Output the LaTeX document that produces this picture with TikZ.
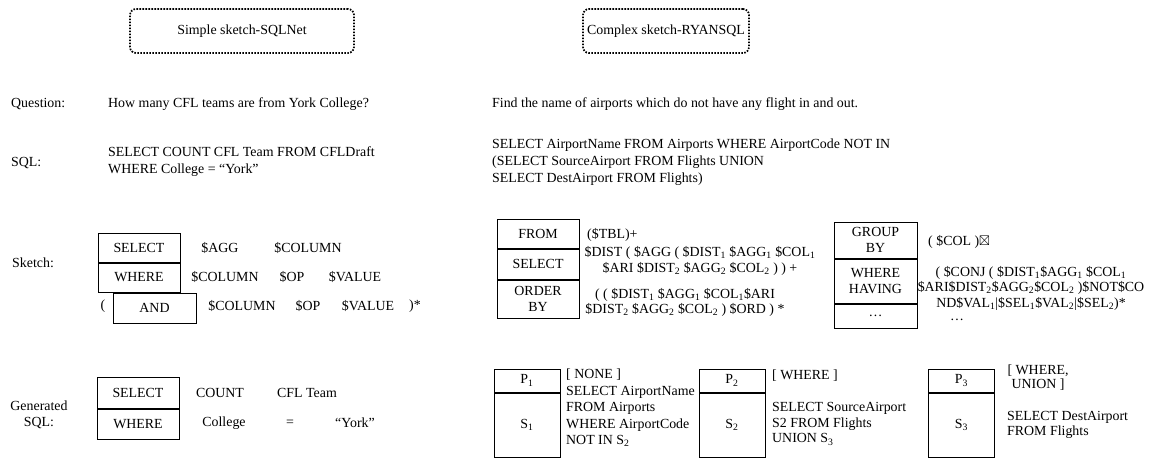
\documentclass[tikz,border=0pt]{standalone}
\usepackage{fontspec}
\setmainfont{Liberation Serif}
\usepackage{amssymb}
\usetikzlibrary{positioning}
\newcommand{\fsz}{\fontsize{13.9}{16.5}\selectfont}
\newcommand{\lo}[1]{\textsubscript{#1}}

\begin{document}
\begin{tikzpicture}[x=1pt, y=-1pt,
  every node/.style={font=\fsz},
  titlebox/.style={draw,line width=1.7,dash pattern=on 1.6pt off 1.4pt,rounded corners=6,minimum height=44,inner sep=0},
  kw/.style={draw,line width=1,align=center,inner sep=0,minimum width=82},
  pbox/.style={draw,line width=1,inner sep=0,minimum width=66},
  lbl/.style={anchor=west,inner sep=0,align=left},
  tok/.style={inner sep=0,align=center}]
\useasboundingbox (0,0) rectangle (1152,459);
% headers
\node[titlebox,minimum width=224] (simple) at (242,31) {Simple sketch-SQLNet};
\node[titlebox,minimum width=166] (complex) at (666,31) {Complex sketch-RYANSQL};
% row captions
\node[lbl] (qcap) at (11,104) {Question:};
\node[lbl] (scap) at (11,163) {SQL:};
\node[lbl] (kcap) at (12,263) {Sketch:};
\node[tok] (gcap) at (39,415) {Generated\\SQL:};
% question and sql
\node[lbl] (q1) at (108,104) {How many CFL teams are from York College?};
\node[lbl] (q2) at (492,104) {Find the name of airports which do not have any flight in and out.};
\node[lbl,font=\fontsize{13.9}{17}\selectfont] (sql1) at (108,162) {SELECT COUNT CFL Team FROM CFLDraft\\WHERE College = “York”};
\node[lbl,font=\fontsize{13.9}{17}\selectfont] (sql2) at (492,162) {SELECT AirportName FROM Airports WHERE AirportCode NOT IN\\(SELECT SourceAirport FROM Flights UNION\\SELECT DestAirport FROM Flights)};
% simple sketch
\node[kw,minimum height=29] (sel) at (139,247.5) {SELECT};
\node[kw,minimum height=29,below=0pt of sel] (whr) {WHERE};
\node[kw,minimum height=30,minimum width=83,below=0pt of whr,xshift=15.5] (and) {AND};
\node[tok] (agg) at (220,248) {\$AGG};
\node[tok] (col) at (308,248) {\$COLUMN};
\node[tok] (wcol) at (225,277) {\$COLUMN};
\node[tok] (wop) at (292,277) {\$OP};
\node[tok] (wval) at (355,277) {\$VALUE};
\node[tok] (lpar) at (103,306) {(};
\node[tok] (acol) at (242,306) {\$COLUMN};
\node[tok] (aop) at (308,306) {\$OP};
\node[tok] (aval) at (368,306) {\$VALUE};
\node[tok] (rpar) at (415,306) {)*};
% complex sketch
\node[kw,minimum height=29] (from) at (538,233.5) {FROM};
\node[kw,minimum height=30,below=0pt of from] (csel) {SELECT};
\node[kw,minimum height=38,below=0pt of csel,font=\fontsize{13.9}{15.5}\selectfont] (ord) {ORDER\\BY};
\node[lbl] (tbl) at (587,235) {(\$TBL)+};
\node[tok,font=\fontsize{13.9}{16}\selectfont] (dist) at (700,261) {\$DIST ( \$AGG ( \$DIST\lo1 \$AGG\lo1 \$COL\lo1\\\$ARI \$DIST\lo2 \$AGG\lo2 \$COL\lo2 ) ) +};
\node[tok,font=\fontsize{13.9}{15.5}\selectfont] (ordtxt) at (685,302.5) {( ( \$DIST\lo1 \$AGG\lo1 \$COL\lo1\$ARI\\\$DIST\lo2 \$AGG\lo2 \$COL\lo2 ) \$ORD ) *};
\node[kw,minimum height=36,minimum width=83,font=\fontsize{13.9}{15.5}\selectfont] (grp) at (875.5,240) {GROUP\\BY};
\node[kw,minimum height=44,minimum width=83,below=0pt of grp,font=\fontsize{13.9}{16}\selectfont] (whav) {WHERE\\HAVING};
\node[kw,minimum height=24,minimum width=83,below=0pt of whav] (more) {\dots};
\node[lbl] (gcol) at (928,242) {( \$COL )$\boxtimes$};
\node[tok,font=\fontsize{13.9}{15.5}\selectfont] (conj) at (1031,288) {( \$CONJ ( \$DIST\lo1\$AGG\lo1 \$COL\lo1\\\$ARI\$DIST\lo2\$AGG\lo2\$COL\lo2 )\$NOT\$CO\\ND\$VAL\lo1|\$SEL\lo1\$VAL\lo2|\$SEL\lo2)*};
\node[tok] (moretxt) at (957,320) {\dots};
% generated sql
\node[kw,minimum height=31] (gsel) at (138,392.5) {SELECT};
\node[kw,minimum height=30,below=0pt of gsel] (gwhr) {WHERE};
\node[tok] (cnt) at (220,393) {COUNT};
\node[tok] (team) at (307,393) {CFL Team};
\node[tok] (coll) at (224,423) {College};
\node[tok] (eq) at (290,423) {=};
\node[tok] (york) at (355,423) {“York”};
% sub-query boxes
\node[pbox,minimum height=23] (p1) at (527,380.5) {P\lo1};
\node[pbox,minimum height=64,below=0pt of p1] (s1) {S\lo1};
\node[pbox,minimum height=23] (p2) at (732,380.5) {P\lo2};
\node[pbox,minimum height=64,below=0pt of p2] (s2) {S\lo2};
\node[pbox,minimum height=23] (p3) at (961.5,380.5) {P\lo3};
\node[pbox,minimum height=64,below=0pt of p3] (s3) {S\lo3};
\node[lbl] (n1) at (566,375) {[ NONE ]};
\node[lbl,font=\fontsize{13.9}{16.4}\selectfont] (q1txt) at (566,416.5) {SELECT AirportName\\FROM Airports\\WHERE AirportCode\\NOT IN S\lo2};
\node[lbl] (n2) at (772,376) {[ WHERE ]};
\node[lbl,font=\fontsize{13.9}{15.5}\selectfont] (q2txt) at (772,424) {SELECT SourceAirport\\S2 FROM Flights\\UNION S\lo3};
\node[tok,font=\fontsize{13.9}{14}\selectfont] (n3) at (1038,378) {[ WHERE,\\UNION ]};
\node[lbl,font=\fontsize{13.9}{14.5}\selectfont] (q3txt) at (1007,425) {SELECT DestAirport\\FROM Flights};
\end{tikzpicture}
\end{document}
